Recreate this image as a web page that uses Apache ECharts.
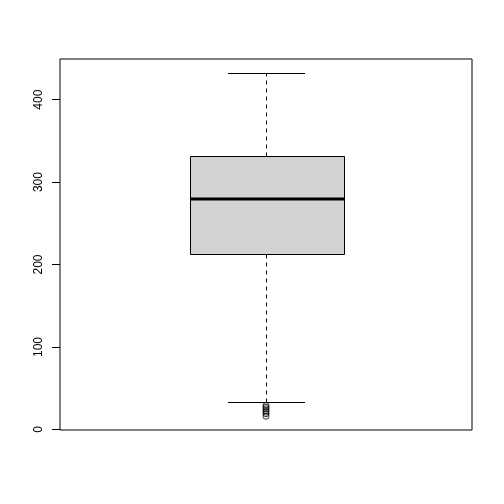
<!DOCTYPE html>
<html>
<head>
<meta charset="utf-8">
<script src="https://cdn.jsdelivr.net/npm/echarts@6/dist/echarts.min.js"></script>
<style>
html,body{margin:0;padding:0;background:#fff;}
#c{width:504px;height:504px;}
</style>
</head>
<body>
<div id="c"></div>
<script>
// Data
const categories = [''];
const whiskerLow = [33];
const quartile1 = [212.5];
const medians = [280];
const quartile3 = [331.7];
const whiskerHigh = [432.6];
const outliers = [29, 27, 25, 23, 21, 19, 16];
const yTicks = [0, 100, 200, 300, 400];

const boxData = categories.map((c, i) => [i, whiskerLow[i], quartile1[i], medians[i], quartile3[i], whiskerHigh[i]]);
const outlierData = outliers.map(v => [0, v]);

const crisp = v => Math.round(v) + 0.5;

const chart = echarts.init(document.getElementById('c'), null, {renderer: 'canvas'});
chart.setOption({
  animation: false,
  backgroundColor: '#fff',
  grid: {left: 60, right: 32, top: 59, bottom: 74, show: true, borderColor: '#000', borderWidth: 1, backgroundColor: 'transparent'},
  xAxis: {
    type: 'category', data: categories, boundaryGap: true,
    axisLine: {show: false}, axisTick: {show: false}, axisLabel: {show: false}, splitLine: {show: false}
  },
  yAxis: {
    type: 'value', min: -0.7, max: 449.3,
    axisLine: {show: false},
    splitLine: {show: false},
    axisTick: {show: true, length: 8, customValues: yTicks, lineStyle: {color: '#000', width: 1}},
    axisLabel: {show: true, customValues: yTicks, rotate: 90, margin: 15, color: '#000',
      fontFamily: 'Liberation Sans, Arial, sans-serif', fontSize: 12}
  },
  series: [
    {
      type: 'custom',
      data: boxData,
      z: 2,
      renderItem: function (params, api) {
        const x = api.value(0);
        const band = api.size([1, 0])[0];
        const boxW = Math.round(band * 0.374);
        const capW = Math.round(boxW / 2);
        const pLo = api.coord([x, api.value(1)]);
        const pQ1 = api.coord([x, api.value(2)]);
        const pMed = api.coord([x, api.value(3)]);
        const pQ3 = api.coord([x, api.value(4)]);
        const pHi = api.coord([x, api.value(5)]);
        const cx = crisp(pMed[0]);
        const yLo = crisp(pLo[1]), yQ1 = crisp(pQ1[1]), yQ3 = crisp(pQ3[1]), yHi = crisp(pHi[1]);
        const yMed = Math.round(pMed[1]);
        const left = Math.round(cx - boxW / 2) + 0.5;
        const dash = {stroke: '#000', lineWidth: 1, lineDash: [4, 4]};
        const solid = {stroke: '#000', lineWidth: 1};
        return {
          type: 'group',
          children: [
            {type: 'line', shape: {x1: cx, y1: yQ3, x2: cx, y2: yHi}, style: dash},
            {type: 'line', shape: {x1: cx, y1: yQ1, x2: cx, y2: yLo}, style: dash},
            {type: 'line', shape: {x1: cx - capW / 2, y1: yHi, x2: cx + capW / 2, y2: yHi}, style: solid},
            {type: 'line', shape: {x1: cx - capW / 2, y1: yLo, x2: cx + capW / 2, y2: yLo}, style: solid},
            {type: 'rect', shape: {x: left, y: yQ3, width: boxW, height: yQ1 - yQ3},
              style: {fill: '#d3d3d3', stroke: '#000', lineWidth: 1}},
            {type: 'line', shape: {x1: left, y1: yMed, x2: left + boxW, y2: yMed},
              style: {stroke: '#000', lineWidth: 3}}
          ]
        };
      }
    },
    {
      type: 'scatter',
      data: outlierData,
      symbol: 'circle',
      symbolSize: 6,
      z: 3,
      itemStyle: {color: 'rgba(0,0,0,0)', borderColor: '#000', borderWidth: 1}
    }
  ]
});
</script>
</body>
</html>
